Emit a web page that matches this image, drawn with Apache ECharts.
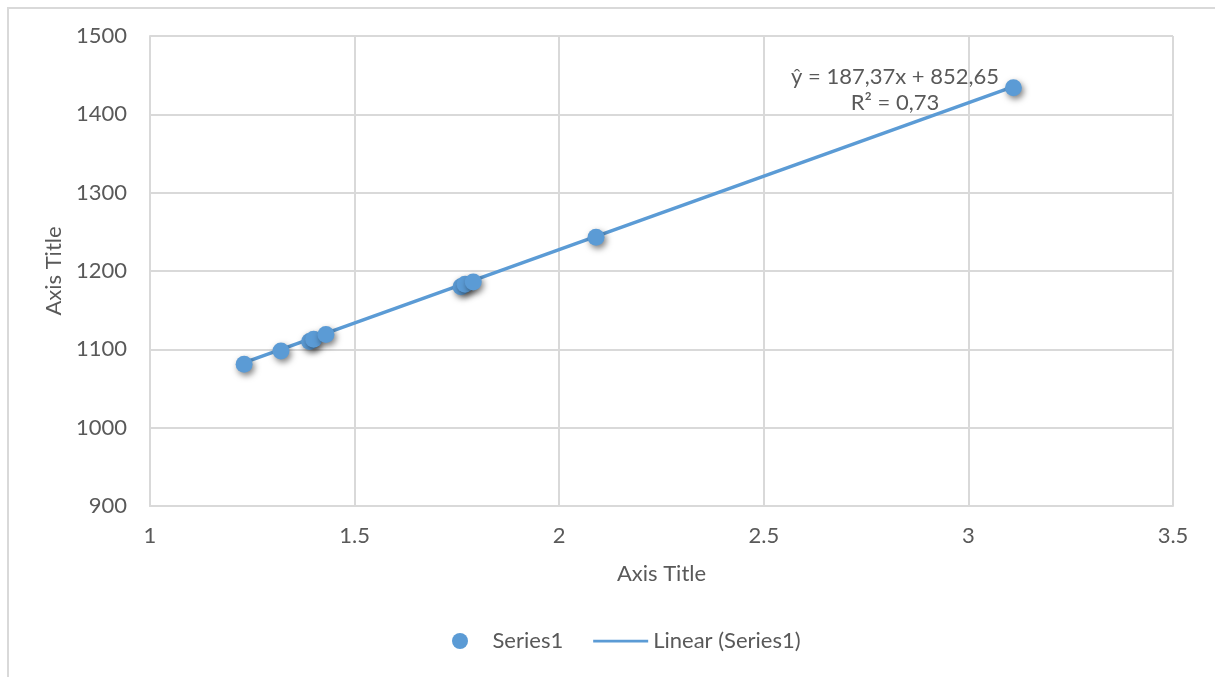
<!DOCTYPE html>
<html>
<head>
<meta charset="utf-8">
<script src="https://cdn.jsdelivr.net/npm/echarts@6/dist/echarts.min.js"></script>
<style>
html,body{margin:0;padding:0;background:#fff;}
#chart{width:1215px;height:677px;}
</style>
</head>
<body>
<div id="chart"></div>
<script>
// Data
const xValues = [1.23, 1.32, 1.39, 1.40, 1.43, 1.76, 1.77, 1.79, 2.09, 3.11];
const yValues = [1081, 1098, 1110, 1113, 1119, 1180, 1183, 1186, 1243, 1434];
const trendCoef = [187.37, 852.65]; // slope, intercept
const trendLabel = ['ŷ = 187,37x + 852,65', 'R² = 0,73'];
const seriesNames = ['Series1', 'Linear (Series1)'];
const xTicks = [1, 1.5, 2, 2.5, 3, 3.5];
const yTicks = [900, 1000, 1100, 1200, 1300, 1400, 1500];

const points = xValues.map((x, i) => [x, yValues[i]]);
const xMin = Math.min(...xValues), xMax = Math.max(...xValues);
const trendPoints = [xMin, xMax].map(x => [x, trendCoef[0] * x + trendCoef[1]]);

const FONT = 'Lato';
const FS = 22;
const TXT = '#595959';
const GRID = '#d9d9d9';
const BLUE = '#5b9bd5';

const chart = echarts.init(document.getElementById('chart'), null, {renderer: 'canvas'});
chart.setOption({
  animation: false,
  backgroundColor: '#ffffff',
  textStyle: {fontFamily: FONT},
  graphic: [{
    type: 'polyline',
    shape: {points: [[8, 700], [8, 8], [1215, 8]]},
    style: {stroke: GRID, lineWidth: 2, fill: null},
    silent: true
  }],
  grid: {left: 150, right: 42, top: 36, bottom: 171},
  xAxis: {
    type: 'value',
    min: xTicks[0], max: xTicks[xTicks.length - 1], interval: 0.5,
    name: 'Axis Title', nameLocation: 'middle', nameGap: 57,
    nameTextStyle: {color: TXT, fontSize: FS, fontFamily: FONT},
    axisLine: {show: true, lineStyle: {color: GRID, width: 2}},
    axisTick: {show: false},
    axisLabel: {color: TXT, fontSize: FS, fontFamily: FONT, margin: 19,
      formatter: v => String(v)},
    splitLine: {show: true, lineStyle: {color: GRID, width: 2}}
  },
  yAxis: {
    type: 'value',
    min: yTicks[0], max: yTicks[yTicks.length - 1], interval: 100,
    name: 'Axis Title', nameLocation: 'middle', nameGap: 82, nameRotate: 90,
    nameTextStyle: {color: TXT, fontSize: FS, fontFamily: FONT},
    axisLine: {show: true, lineStyle: {color: GRID, width: 2}},
    axisTick: {show: false},
    axisLabel: {color: TXT, fontSize: FS, fontFamily: FONT, margin: 23,
      formatter: v => String(v)},
    splitLine: {show: true, lineStyle: {color: GRID, width: 2}}
  },
  legend: {
    bottom: 20, left: 447,
    itemWidth: 55, itemHeight: 16, itemGap: 30, itemTextGap: 4,
    textStyle: {color: TXT, fontSize: FS, fontFamily: FONT},
    data: [
      {name: seriesNames[0], icon: 'circle'},
      {name: seriesNames[1], icon: 'path://M0,0 L100,0 L100,5 L0,5 Z'}
    ]
  },
  series: [
    {
      name: seriesNames[1],
      type: 'line',
      data: trendPoints,
      showSymbol: false,
      lineStyle: {color: BLUE, width: 3.5},
      itemStyle: {color: BLUE},
      z: 1
    },
    {
      name: seriesNames[0],
      type: 'scatter',
      data: points,
      symbol: 'circle',
      symbolSize: 17,
      itemStyle: {
        color: BLUE,
        opacity: 1,
        shadowBlur: 6,
        shadowColor: 'rgba(0,0,0,0.5)',
        shadowOffsetX: 2,
        shadowOffsetY: 3
      },
      z: 3
    }
  ],
  title: {
    text: trendLabel.join('\n'),
    left: 890, top: 59,
    textAlign: 'center',
    textStyle: {color: TXT, fontSize: 22, fontWeight: 'normal', fontFamily: FONT, lineHeight: 26, align: 'center'}
  }
});
</script>
</body>
</html>
